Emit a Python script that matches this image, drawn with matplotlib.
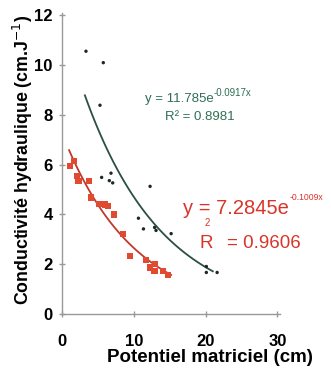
import matplotlib
matplotlib.use("Agg")
import matplotlib.pyplot as plt
import numpy as np

plt.rcParams['font.family'] = ['Liberation Sans', 'DejaVu Sans']

# Data
red_x = [1.1, 1.7, 2.1, 2.3, 3.8, 4.1, 5.2, 6.0, 6.46, 7.3, 8.55, 9.5, 11.7, 12.3, 12.97, 12.9, 14.1, 14.8]
red_y = [5.95, 6.15, 5.56, 5.36, 5.36, 4.68, 4.42, 4.4, 4.35, 4.0, 3.23, 2.33, 2.17, 1.87, 2.0, 1.74, 1.74, 1.56]
blk_x = [3.35, 5.76, 5.3, 5.53, 6.83, 7.07, 6.6, 12.27, 10.65, 11.35, 12.9, 13.1, 15.2, 20.1, 20.1, 21.6]
blk_y = [10.56, 10.1, 8.39, 5.49, 5.66, 5.27, 5.36, 5.13, 3.85, 3.42, 3.48, 3.36, 3.23, 1.91, 1.67, 1.67]

red_a, red_b = 7.2845, -0.1009
blk_a, blk_b = 11.785, -0.0917
red_range = (1.0, 15.2)
blk_range = (3.2, 21.0)

xticks = [0, 10, 20, 30]
yticks = [0, 2, 4, 6, 8, 10, 12]

RED = '#d8352a'
GREEN = '#2f6e55'

fig = plt.figure(figsize=(3.31, 3.69), dpi=100)
ax = fig.add_axes([0.187, 0.149, 0.66, 0.816])

xr = np.linspace(*red_range, 100)
ax.plot(xr, red_a * np.exp(red_b * xr), color='#c0392b', lw=1.3, zorder=2)
xb = np.linspace(*blk_range, 100)
ax.plot(xb, blk_a * np.exp(blk_b * xb), color='#2c4f42', lw=1.3, zorder=2)

ax.scatter(red_x, red_y, marker='s', s=20, color='#e04a30', edgecolors='none', zorder=3)
ax.scatter(blk_x, blk_y, marker='o', s=6, color='#1a2a24', edgecolors='none', zorder=3)

ax.set_xlim(0, 30.4)
ax.set_ylim(0, 12.1)
ax.set_xticks(xticks)
ax.set_yticks(yticks)
for s in ['top', 'right']:
    ax.spines[s].set_visible(False)
for s in ['left', 'bottom']:
    ax.spines[s].set_color('#999999')
    ax.spines[s].set_linewidth(1.0)
ax.tick_params(direction='inout', length=5, width=1, color='#999999', labelsize=12)
ax.tick_params(axis='x', pad=12)
ax.tick_params(axis='y', pad=4)
for lab in ax.get_xticklabels() + ax.get_yticklabels():
    lab.set_fontweight('bold')

ax.set_xlabel('Potentiel matriciel (cm)', fontsize=13.5, fontweight='bold')
ax.xaxis.label.set_va('center')
ax.xaxis.set_label_coords(0.677, -0.143)
ax.set_ylabel('Conductivité hydraulique (cm.J$^{-1}$)', fontsize=12.8, fontweight='bold')
ax.yaxis.label.set_va('center')
ax.yaxis.set_label_coords(-0.178, 0.512)

# black (green) equation
t1 = ax.text(11.6, 8.5, 'y = 11.785e', color=GREEN, fontsize=9.5)
ax.annotate('-0.0917x', xy=(1.0, 0.6), xycoords=t1, color=GREEN, fontsize=7,
            va='bottom', ha='left')
ax.text(14.4, 7.8, 'R² = 0.8981', color=GREEN, fontsize=9.5)

# red equation
t3 = ax.text(16.9, 4.0, 'y = 7.2845e', color=RED, fontsize=14.5)
ax.annotate('-0.1009x', xy=(1.0, 0.85), xycoords=t3, color=RED, fontsize=6.2,
            va='bottom', ha='left')
ax.text(19.2, 2.67, 'R', color=RED, fontsize=13.5)
ax.text(20.2, 3.64, '2', color=RED, fontsize=7, ha='center', va='center')
ax.text(23.0, 2.67, '= 0.9606', color=RED, fontsize=13.5)

fig.savefig('out.png', dpi=100)
